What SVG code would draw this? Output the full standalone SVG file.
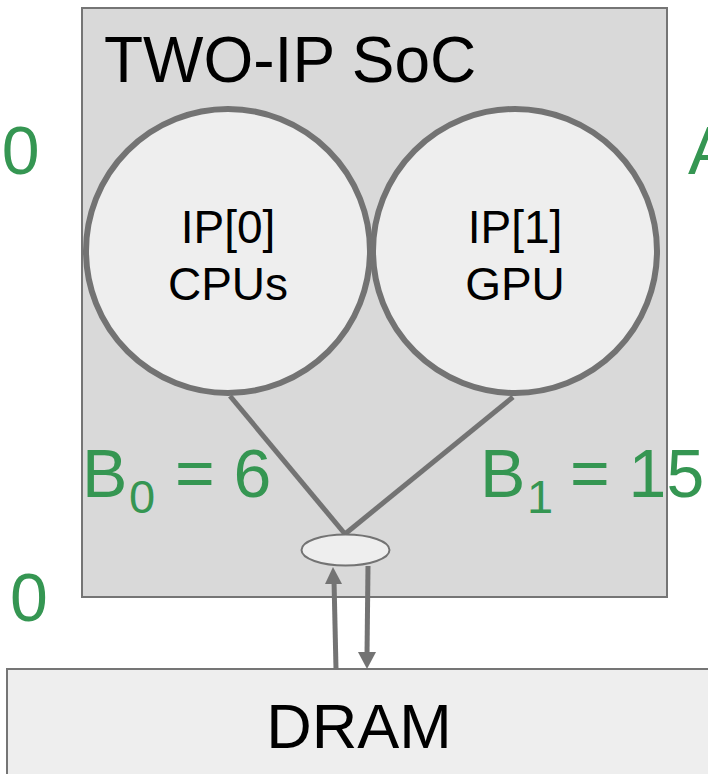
<svg xmlns="http://www.w3.org/2000/svg" width="708" height="774" viewBox="0 0 708 774">
<style>
.lbl{font-family:"Liberation Sans",Arial,sans-serif;fill:#000}
.grn{font-family:"Liberation Sans",Arial,sans-serif;fill:#359652}
.edge{stroke:#737373;fill:none}
.head{fill:#737373}
.ip{fill:#eeeeee;stroke:#737373;stroke-width:6}
</style>
<rect width="708" height="774" fill="#ffffff"/>
<g id="soc">
<rect x="82" y="8" width="585" height="589" fill="#d9d9d9" stroke="#757575" stroke-width="2"/>
<text class="lbl" x="104" y="82" font-size="64">TWO-IP SoC</text>
</g>
<g id="dram">
<rect x="7" y="669" width="720" height="130" fill="#eeeeee" stroke="#757575" stroke-width="2"/>
<text class="lbl" x="359" y="748" font-size="63" text-anchor="middle">DRAM</text>
</g>
<g id="connectors">
<line class="edge" x1="230" y1="396" x2="345" y2="534" stroke-width="5"/>
<line class="edge" x1="513" y1="397" x2="345" y2="534" stroke-width="5"/>
<line class="edge" x1="336" y1="669" x2="334" y2="580" stroke-width="5"/>
<polygon class="head" points="333,567 342,584 325,584"/>
<line class="edge" x1="368" y1="566" x2="367" y2="655" stroke-width="5"/>
<polygon class="head" points="367,669 358,652 376,652"/>
</g>
<g id="ip0">
<circle class="ip" cx="228" cy="251" r="142"/>
<text class="lbl" x="228" y="243" font-size="46" text-anchor="middle">IP[0]</text>
<text class="lbl" x="228" y="300" font-size="46" text-anchor="middle">CPUs</text>
</g>
<g id="ip1">
<circle class="ip" cx="515" cy="251" r="142"/>
<text class="lbl" x="515" y="243" font-size="46" text-anchor="middle">IP[1]</text>
<text class="lbl" x="515" y="300" font-size="46" text-anchor="middle">GPU</text>
</g>
<g id="mux">
<ellipse cx="345.5" cy="550" rx="44" ry="15.5" fill="#eeeeee" stroke="#737373" stroke-width="2"/>
</g>
<g id="labels">
<text class="grn" font-size="68" x="82" y="497">B</text>
<text class="grn" font-size="47" x="129" y="513">0</text>
<text class="grn" font-size="68" x="175" y="497">= 6</text>
<text class="grn" font-size="68" x="480" y="497">B</text>
<text class="grn" font-size="47" x="527" y="513">1</text>
<text class="grn" font-size="68" x="570" y="497">= 15</text>
<text class="grn" font-size="68" x="-36" y="174">40</text>
<text class="grn" font-size="68" x="688" y="174">A</text>
<text class="grn" font-size="68" x="10" y="621">0</text>
</g>
</svg>
